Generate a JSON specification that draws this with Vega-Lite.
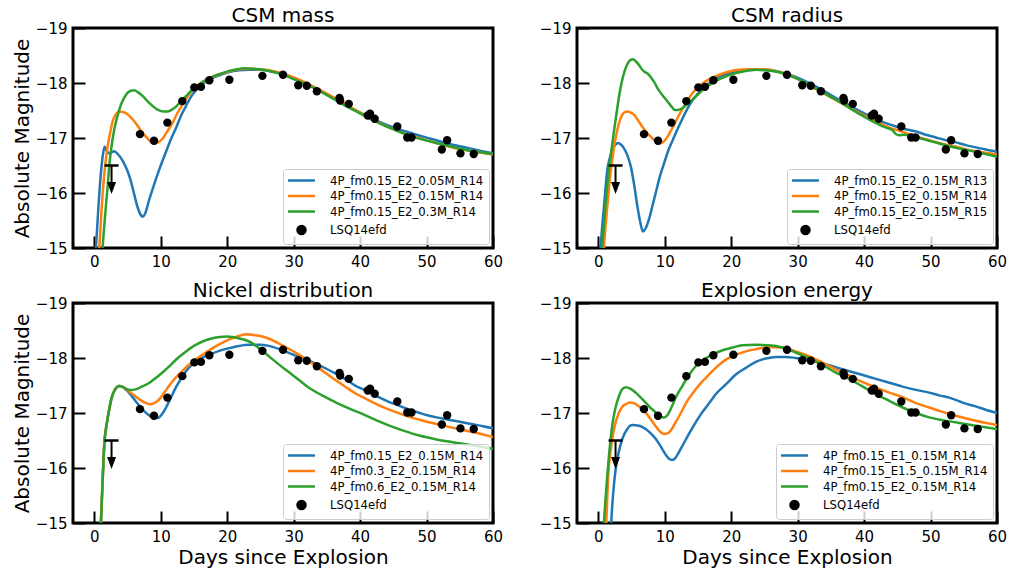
{
  "$schema": "https://vega.github.io/schema/vega-lite/v6.json",
  "background": "white",
  "padding": {"left": 10, "top": 4, "right": 5, "bottom": 5},
  "config": {
    "font": "DejaVu Sans",
    "view": {"stroke": "black", "strokeWidth": 3},
    "axis": {"domain": false, "grid": false, "ticks": true, "tickSize": -12, "tickWidth": 2, "tickColor": "black", "labelFont": "DejaVu Sans", "labelFontSize": 15, "labelColor": "black", "labelPadding": 18, "labelFlush": false, "labelOverlap": false, "titleFont": "DejaVu Sans", "titleFontSize": 20, "titleFontWeight": "normal", "titleColor": "black", "titlePadding": 3},
    "title": {"font": "DejaVu Sans", "fontSize": 20, "fontWeight": "normal", "color": "black", "anchor": "middle", "offset": -5},
    "legend": {"orient": "bottom-right", "offset": 4, "padding": 5, "fillColor": "rgba(255,255,255,0.8)", "strokeColor": "#cccccc", "strokeWidth": 1, "cornerRadius": 3, "labelFont": "DejaVu Sans", "labelFontSize": 11.7, "labelColor": "black", "labelLimit": 400, "rowPadding": 1.5, "symbolSize": 100, "symbolStrokeWidth": 2.5, "labelOffset": 22, "symbolOffset": 7}
  },
  "datasets": {
    "obs": [{"d":6.88,"M":-17.07},{"d":8.99,"M":-16.95},{"d":11.0,"M":-17.28},{"d":13.25,"M":-17.67},{"d":15.06,"M":-17.92},{"d":16.06,"M":-17.93},{"d":17.32,"M":-18.05},{"d":20.33,"M":-18.06},{"d":25.3,"M":-18.13},{"d":28.4,"M":-18.15},{"d":30.7,"M":-17.96},{"d":31.98,"M":-17.95},{"d":33.5,"M":-17.85},{"d":36.9,"M":-17.73},{"d":37.0,"M":-17.68},{"d":38.3,"M":-17.62},{"d":41.16,"M":-17.41},{"d":41.5,"M":-17.44},{"d":42.2,"M":-17.35},{"d":45.6,"M":-17.21},{"d":47.1,"M":-17.01},{"d":47.74,"M":-17.01},{"d":52.3,"M":-16.79},{"d":53.1,"M":-16.96},{"d":55.1,"M":-16.72},{"d":57.1,"M":-16.71}],
    "lim": [{"d": 2.6, "M": -16.5}],
    "A": [
      {"s":"4P_fm0.15_E2_0.05M_R14","d":0.0,"M":-14.6},{"s":"4P_fm0.15_E2_0.05M_R14","d":0.25,"M":-15.0},{"s":"4P_fm0.15_E2_0.05M_R14","d":0.6,"M":-15.7},{"s":"4P_fm0.15_E2_0.05M_R14","d":1.0,"M":-16.36},{"s":"4P_fm0.15_E2_0.05M_R14","d":1.3,"M":-16.7},{"s":"4P_fm0.15_E2_0.05M_R14","d":1.55,"M":-16.84},{"s":"4P_fm0.15_E2_0.05M_R14","d":1.9,"M":-16.76},{"s":"4P_fm0.15_E2_0.05M_R14","d":2.3,"M":-16.72},{"s":"4P_fm0.15_E2_0.05M_R14","d":3.0,"M":-16.76},{"s":"4P_fm0.15_E2_0.05M_R14","d":3.6,"M":-16.7},{"s":"4P_fm0.15_E2_0.05M_R14","d":4.3,"M":-16.58},{"s":"4P_fm0.15_E2_0.05M_R14","d":5.0,"M":-16.4},{"s":"4P_fm0.15_E2_0.05M_R14","d":5.5,"M":-16.22},{"s":"4P_fm0.15_E2_0.05M_R14","d":6.0,"M":-15.98},{"s":"4P_fm0.15_E2_0.05M_R14","d":6.5,"M":-15.75},{"s":"4P_fm0.15_E2_0.05M_R14","d":7.0,"M":-15.6},{"s":"4P_fm0.15_E2_0.05M_R14","d":7.3,"M":-15.57},{"s":"4P_fm0.15_E2_0.05M_R14","d":7.7,"M":-15.64},{"s":"4P_fm0.15_E2_0.05M_R14","d":8.2,"M":-15.85},{"s":"4P_fm0.15_E2_0.05M_R14","d":8.8,"M":-16.08},{"s":"4P_fm0.15_E2_0.05M_R14","d":9.3,"M":-16.26},{"s":"4P_fm0.15_E2_0.05M_R14","d":10.0,"M":-16.5},{"s":"4P_fm0.15_E2_0.05M_R14","d":10.8,"M":-16.75},{"s":"4P_fm0.15_E2_0.05M_R14","d":11.5,"M":-16.97},{"s":"4P_fm0.15_E2_0.05M_R14","d":12.3,"M":-17.18},{"s":"4P_fm0.15_E2_0.05M_R14","d":13.0,"M":-17.39},{"s":"4P_fm0.15_E2_0.05M_R14","d":13.8,"M":-17.58},{"s":"4P_fm0.15_E2_0.05M_R14","d":14.5,"M":-17.74},{"s":"4P_fm0.15_E2_0.05M_R14","d":15.3,"M":-17.87},{"s":"4P_fm0.15_E2_0.05M_R14","d":16.3,"M":-17.98},{"s":"4P_fm0.15_E2_0.05M_R14","d":17.3,"M":-18.06},{"s":"4P_fm0.15_E2_0.05M_R14","d":18.8,"M":-18.14},{"s":"4P_fm0.15_E2_0.05M_R14","d":20.3,"M":-18.2},{"s":"4P_fm0.15_E2_0.05M_R14","d":21.8,"M":-18.23},{"s":"4P_fm0.15_E2_0.05M_R14","d":23.3,"M":-18.24},{"s":"4P_fm0.15_E2_0.05M_R14","d":24.8,"M":-18.24},{"s":"4P_fm0.15_E2_0.05M_R14","d":26.3,"M":-18.22},{"s":"4P_fm0.15_E2_0.05M_R14","d":27.8,"M":-18.18},{"s":"4P_fm0.15_E2_0.05M_R14","d":29.4,"M":-18.12},{"s":"4P_fm0.15_E2_0.05M_R14","d":31,"M":-18.04},{"s":"4P_fm0.15_E2_0.05M_R14","d":32.4,"M":-17.96},{"s":"4P_fm0.15_E2_0.05M_R14","d":34,"M":-17.86},{"s":"4P_fm0.15_E2_0.05M_R14","d":35.4,"M":-17.77},{"s":"4P_fm0.15_E2_0.05M_R14","d":37,"M":-17.66},{"s":"4P_fm0.15_E2_0.05M_R14","d":38.4,"M":-17.56},{"s":"4P_fm0.15_E2_0.05M_R14","d":40,"M":-17.46},{"s":"4P_fm0.15_E2_0.05M_R14","d":41.4,"M":-17.38},{"s":"4P_fm0.15_E2_0.05M_R14","d":43,"M":-17.29},{"s":"4P_fm0.15_E2_0.05M_R14","d":44.4,"M":-17.22},{"s":"4P_fm0.15_E2_0.05M_R14","d":46,"M":-17.15},{"s":"4P_fm0.15_E2_0.05M_R14","d":47.4,"M":-17.1},{"s":"4P_fm0.15_E2_0.05M_R14","d":49,"M":-17.04},{"s":"4P_fm0.15_E2_0.05M_R14","d":50.5,"M":-16.99},{"s":"4P_fm0.15_E2_0.05M_R14","d":52,"M":-16.94},{"s":"4P_fm0.15_E2_0.05M_R14","d":53.5,"M":-16.89},{"s":"4P_fm0.15_E2_0.05M_R14","d":55,"M":-16.85},{"s":"4P_fm0.15_E2_0.05M_R14","d":56.5,"M":-16.81},{"s":"4P_fm0.15_E2_0.05M_R14","d":58,"M":-16.77},{"s":"4P_fm0.15_E2_0.05M_R14","d":60,"M":-16.72},
      {"s":"4P_fm0.15_E2_0.15M_R14","d":0.5,"M":-14.6},{"s":"4P_fm0.15_E2_0.15M_R14","d":0.75,"M":-15.0},{"s":"4P_fm0.15_E2_0.15M_R14","d":1.0,"M":-15.5},{"s":"4P_fm0.15_E2_0.15M_R14","d":1.25,"M":-15.97},{"s":"4P_fm0.15_E2_0.15M_R14","d":1.6,"M":-16.45},{"s":"4P_fm0.15_E2_0.15M_R14","d":2.0,"M":-16.84},{"s":"4P_fm0.15_E2_0.15M_R14","d":2.4,"M":-17.1},{"s":"4P_fm0.15_E2_0.15M_R14","d":2.76,"M":-17.3},{"s":"4P_fm0.15_E2_0.15M_R14","d":3.2,"M":-17.42},{"s":"4P_fm0.15_E2_0.15M_R14","d":3.77,"M":-17.48},{"s":"4P_fm0.15_E2_0.15M_R14","d":4.4,"M":-17.47},{"s":"4P_fm0.15_E2_0.15M_R14","d":5.0,"M":-17.43},{"s":"4P_fm0.15_E2_0.15M_R14","d":5.6,"M":-17.36},{"s":"4P_fm0.15_E2_0.15M_R14","d":6.3,"M":-17.26},{"s":"4P_fm0.15_E2_0.15M_R14","d":7.0,"M":-17.14},{"s":"4P_fm0.15_E2_0.15M_R14","d":7.8,"M":-17.02},{"s":"4P_fm0.15_E2_0.15M_R14","d":8.5,"M":-16.93},{"s":"4P_fm0.15_E2_0.15M_R14","d":9.0,"M":-16.9},{"s":"4P_fm0.15_E2_0.15M_R14","d":9.6,"M":-16.92},{"s":"4P_fm0.15_E2_0.15M_R14","d":10.3,"M":-16.99},{"s":"4P_fm0.15_E2_0.15M_R14","d":11.0,"M":-17.12},{"s":"4P_fm0.15_E2_0.15M_R14","d":11.8,"M":-17.28},{"s":"4P_fm0.15_E2_0.15M_R14","d":12.5,"M":-17.45},{"s":"4P_fm0.15_E2_0.15M_R14","d":13.3,"M":-17.61},{"s":"4P_fm0.15_E2_0.15M_R14","d":14.0,"M":-17.75},{"s":"4P_fm0.15_E2_0.15M_R14","d":14.8,"M":-17.87},{"s":"4P_fm0.15_E2_0.15M_R14","d":15.8,"M":-17.97},{"s":"4P_fm0.15_E2_0.15M_R14","d":17.3,"M":-18.08},{"s":"4P_fm0.15_E2_0.15M_R14","d":18.8,"M":-18.16},{"s":"4P_fm0.15_E2_0.15M_R14","d":20.3,"M":-18.21},{"s":"4P_fm0.15_E2_0.15M_R14","d":21.8,"M":-18.25},{"s":"4P_fm0.15_E2_0.15M_R14","d":23.3,"M":-18.26},{"s":"4P_fm0.15_E2_0.15M_R14","d":24.8,"M":-18.25},{"s":"4P_fm0.15_E2_0.15M_R14","d":26.3,"M":-18.23},{"s":"4P_fm0.15_E2_0.15M_R14","d":27.8,"M":-18.19},{"s":"4P_fm0.15_E2_0.15M_R14","d":29.4,"M":-18.13},{"s":"4P_fm0.15_E2_0.15M_R14","d":31,"M":-18.05},{"s":"4P_fm0.15_E2_0.15M_R14","d":32.4,"M":-17.97},{"s":"4P_fm0.15_E2_0.15M_R14","d":34,"M":-17.87},{"s":"4P_fm0.15_E2_0.15M_R14","d":35.4,"M":-17.78},{"s":"4P_fm0.15_E2_0.15M_R14","d":37,"M":-17.67},{"s":"4P_fm0.15_E2_0.15M_R14","d":38.4,"M":-17.57},{"s":"4P_fm0.15_E2_0.15M_R14","d":40,"M":-17.46},{"s":"4P_fm0.15_E2_0.15M_R14","d":41.4,"M":-17.37},{"s":"4P_fm0.15_E2_0.15M_R14","d":43,"M":-17.27},{"s":"4P_fm0.15_E2_0.15M_R14","d":44.4,"M":-17.19},{"s":"4P_fm0.15_E2_0.15M_R14","d":46,"M":-17.11},{"s":"4P_fm0.15_E2_0.15M_R14","d":47.4,"M":-17.05},{"s":"4P_fm0.15_E2_0.15M_R14","d":49,"M":-16.99},{"s":"4P_fm0.15_E2_0.15M_R14","d":50.5,"M":-16.94},{"s":"4P_fm0.15_E2_0.15M_R14","d":52,"M":-16.89},{"s":"4P_fm0.15_E2_0.15M_R14","d":53.5,"M":-16.84},{"s":"4P_fm0.15_E2_0.15M_R14","d":55,"M":-16.8},{"s":"4P_fm0.15_E2_0.15M_R14","d":56.5,"M":-16.77},{"s":"4P_fm0.15_E2_0.15M_R14","d":58,"M":-16.74},{"s":"4P_fm0.15_E2_0.15M_R14","d":60,"M":-16.7},
      {"s":"4P_fm0.15_E2_0.3M_R14","d":1.0,"M":-14.6},{"s":"4P_fm0.15_E2_0.3M_R14","d":1.25,"M":-15.0},{"s":"4P_fm0.15_E2_0.3M_R14","d":1.5,"M":-15.4},{"s":"4P_fm0.15_E2_0.3M_R14","d":1.77,"M":-15.79},{"s":"4P_fm0.15_E2_0.3M_R14","d":2.0,"M":-16.1},{"s":"4P_fm0.15_E2_0.3M_R14","d":2.26,"M":-16.5},{"s":"4P_fm0.15_E2_0.3M_R14","d":2.6,"M":-16.85},{"s":"4P_fm0.15_E2_0.3M_R14","d":3.0,"M":-17.15},{"s":"4P_fm0.15_E2_0.3M_R14","d":3.5,"M":-17.4},{"s":"4P_fm0.15_E2_0.3M_R14","d":4.0,"M":-17.6},{"s":"4P_fm0.15_E2_0.3M_R14","d":4.5,"M":-17.73},{"s":"4P_fm0.15_E2_0.3M_R14","d":5.0,"M":-17.82},{"s":"4P_fm0.15_E2_0.3M_R14","d":5.5,"M":-17.86},{"s":"4P_fm0.15_E2_0.3M_R14","d":6.0,"M":-17.87},{"s":"4P_fm0.15_E2_0.3M_R14","d":6.6,"M":-17.83},{"s":"4P_fm0.15_E2_0.3M_R14","d":7.3,"M":-17.76},{"s":"4P_fm0.15_E2_0.3M_R14","d":8.0,"M":-17.67},{"s":"4P_fm0.15_E2_0.3M_R14","d":8.8,"M":-17.58},{"s":"4P_fm0.15_E2_0.3M_R14","d":9.6,"M":-17.51},{"s":"4P_fm0.15_E2_0.3M_R14","d":10.4,"M":-17.48},{"s":"4P_fm0.15_E2_0.3M_R14","d":11.0,"M":-17.48},{"s":"4P_fm0.15_E2_0.3M_R14","d":11.6,"M":-17.51},{"s":"4P_fm0.15_E2_0.3M_R14","d":12.3,"M":-17.57},{"s":"4P_fm0.15_E2_0.3M_R14","d":13.0,"M":-17.66},{"s":"4P_fm0.15_E2_0.3M_R14","d":13.8,"M":-17.76},{"s":"4P_fm0.15_E2_0.3M_R14","d":14.5,"M":-17.85},{"s":"4P_fm0.15_E2_0.3M_R14","d":15.3,"M":-17.94},{"s":"4P_fm0.15_E2_0.3M_R14","d":16.3,"M":-18.02},{"s":"4P_fm0.15_E2_0.3M_R14","d":17.3,"M":-18.09},{"s":"4P_fm0.15_E2_0.3M_R14","d":18.8,"M":-18.16},{"s":"4P_fm0.15_E2_0.3M_R14","d":20.3,"M":-18.22},{"s":"4P_fm0.15_E2_0.3M_R14","d":21.5,"M":-18.25},{"s":"4P_fm0.15_E2_0.3M_R14","d":22.5,"M":-18.27},{"s":"4P_fm0.15_E2_0.3M_R14","d":24,"M":-18.26},{"s":"4P_fm0.15_E2_0.3M_R14","d":25.4,"M":-18.24},{"s":"4P_fm0.15_E2_0.3M_R14","d":27,"M":-18.2},{"s":"4P_fm0.15_E2_0.3M_R14","d":28.4,"M":-18.15},{"s":"4P_fm0.15_E2_0.3M_R14","d":30,"M":-18.07},{"s":"4P_fm0.15_E2_0.3M_R14","d":31.4,"M":-18.0},{"s":"4P_fm0.15_E2_0.3M_R14","d":33,"M":-17.91},{"s":"4P_fm0.15_E2_0.3M_R14","d":34.4,"M":-17.82},{"s":"4P_fm0.15_E2_0.3M_R14","d":36,"M":-17.71},{"s":"4P_fm0.15_E2_0.3M_R14","d":37.4,"M":-17.61},{"s":"4P_fm0.15_E2_0.3M_R14","d":39,"M":-17.51},{"s":"4P_fm0.15_E2_0.3M_R14","d":40.4,"M":-17.42},{"s":"4P_fm0.15_E2_0.3M_R14","d":42,"M":-17.32},{"s":"4P_fm0.15_E2_0.3M_R14","d":43.4,"M":-17.24},{"s":"4P_fm0.15_E2_0.3M_R14","d":45,"M":-17.16},{"s":"4P_fm0.15_E2_0.3M_R14","d":46.4,"M":-17.09},{"s":"4P_fm0.15_E2_0.3M_R14","d":48,"M":-17.02},{"s":"4P_fm0.15_E2_0.3M_R14","d":49.5,"M":-16.97},{"s":"4P_fm0.15_E2_0.3M_R14","d":51.5,"M":-16.91},{"s":"4P_fm0.15_E2_0.3M_R14","d":53.5,"M":-16.85},{"s":"4P_fm0.15_E2_0.3M_R14","d":55,"M":-16.81},{"s":"4P_fm0.15_E2_0.3M_R14","d":56.5,"M":-16.77},{"s":"4P_fm0.15_E2_0.3M_R14","d":58,"M":-16.74},{"s":"4P_fm0.15_E2_0.3M_R14","d":60,"M":-16.71}
    ],
    "B": [
      {"s":"4P_fm0.15_E2_0.15M_R13","d":0.2,"M":-14.6},{"s":"4P_fm0.15_E2_0.15M_R13","d":0.36,"M":-15.0},{"s":"4P_fm0.15_E2_0.15M_R13","d":0.6,"M":-15.4},{"s":"4P_fm0.15_E2_0.15M_R13","d":0.86,"M":-15.75},{"s":"4P_fm0.15_E2_0.15M_R13","d":1.1,"M":-16.1},{"s":"4P_fm0.15_E2_0.15M_R13","d":1.36,"M":-16.42},{"s":"4P_fm0.15_E2_0.15M_R13","d":1.7,"M":-16.62},{"s":"4P_fm0.15_E2_0.15M_R13","d":2.1,"M":-16.78},{"s":"4P_fm0.15_E2_0.15M_R13","d":2.5,"M":-16.87},{"s":"4P_fm0.15_E2_0.15M_R13","d":3.0,"M":-16.91},{"s":"4P_fm0.15_E2_0.15M_R13","d":3.5,"M":-16.87},{"s":"4P_fm0.15_E2_0.15M_R13","d":3.87,"M":-16.81},{"s":"4P_fm0.15_E2_0.15M_R13","d":4.4,"M":-16.68},{"s":"4P_fm0.15_E2_0.15M_R13","d":4.9,"M":-16.48},{"s":"4P_fm0.15_E2_0.15M_R13","d":5.4,"M":-16.15},{"s":"4P_fm0.15_E2_0.15M_R13","d":5.9,"M":-15.75},{"s":"4P_fm0.15_E2_0.15M_R13","d":6.3,"M":-15.48},{"s":"4P_fm0.15_E2_0.15M_R13","d":6.73,"M":-15.3},{"s":"4P_fm0.15_E2_0.15M_R13","d":7.1,"M":-15.35},{"s":"4P_fm0.15_E2_0.15M_R13","d":7.6,"M":-15.51},{"s":"4P_fm0.15_E2_0.15M_R13","d":8.1,"M":-15.74},{"s":"4P_fm0.15_E2_0.15M_R13","d":8.64,"M":-16.0},{"s":"4P_fm0.15_E2_0.15M_R13","d":9.2,"M":-16.27},{"s":"4P_fm0.15_E2_0.15M_R13","d":9.9,"M":-16.54},{"s":"4P_fm0.15_E2_0.15M_R13","d":10.5,"M":-16.76},{"s":"4P_fm0.15_E2_0.15M_R13","d":11.2,"M":-16.96},{"s":"4P_fm0.15_E2_0.15M_R13","d":12.0,"M":-17.18},{"s":"4P_fm0.15_E2_0.15M_R13","d":12.7,"M":-17.36},{"s":"4P_fm0.15_E2_0.15M_R13","d":13.4,"M":-17.53},{"s":"4P_fm0.15_E2_0.15M_R13","d":14.2,"M":-17.69},{"s":"4P_fm0.15_E2_0.15M_R13","d":15.0,"M":-17.81},{"s":"4P_fm0.15_E2_0.15M_R13","d":15.7,"M":-17.9},{"s":"4P_fm0.15_E2_0.15M_R13","d":16.7,"M":-18.0},{"s":"4P_fm0.15_E2_0.15M_R13","d":17.7,"M":-18.09},{"s":"4P_fm0.15_E2_0.15M_R13","d":19.2,"M":-18.16},{"s":"4P_fm0.15_E2_0.15M_R13","d":20.7,"M":-18.21},{"s":"4P_fm0.15_E2_0.15M_R13","d":22.2,"M":-18.23},{"s":"4P_fm0.15_E2_0.15M_R13","d":23.7,"M":-18.24},{"s":"4P_fm0.15_E2_0.15M_R13","d":25.2,"M":-18.24},{"s":"4P_fm0.15_E2_0.15M_R13","d":26.7,"M":-18.22},{"s":"4P_fm0.15_E2_0.15M_R13","d":28.2,"M":-18.17},{"s":"4P_fm0.15_E2_0.15M_R13","d":29.7,"M":-18.11},{"s":"4P_fm0.15_E2_0.15M_R13","d":31.2,"M":-18.03},{"s":"4P_fm0.15_E2_0.15M_R13","d":32.7,"M":-17.94},{"s":"4P_fm0.15_E2_0.15M_R13","d":34.2,"M":-17.84},{"s":"4P_fm0.15_E2_0.15M_R13","d":35.7,"M":-17.73},{"s":"4P_fm0.15_E2_0.15M_R13","d":37.2,"M":-17.63},{"s":"4P_fm0.15_E2_0.15M_R13","d":38.7,"M":-17.53},{"s":"4P_fm0.15_E2_0.15M_R13","d":40.3,"M":-17.43},{"s":"4P_fm0.15_E2_0.15M_R13","d":41.8,"M":-17.34},{"s":"4P_fm0.15_E2_0.15M_R13","d":43.3,"M":-17.27},{"s":"4P_fm0.15_E2_0.15M_R13","d":44.8,"M":-17.21},{"s":"4P_fm0.15_E2_0.15M_R13","d":46.3,"M":-17.16},{"s":"4P_fm0.15_E2_0.15M_R13","d":47.8,"M":-17.12},{"s":"4P_fm0.15_E2_0.15M_R13","d":49.3,"M":-17.06},{"s":"4P_fm0.15_E2_0.15M_R13","d":50.8,"M":-17.01},{"s":"4P_fm0.15_E2_0.15M_R13","d":52.3,"M":-16.96},{"s":"4P_fm0.15_E2_0.15M_R13","d":53.8,"M":-16.92},{"s":"4P_fm0.15_E2_0.15M_R13","d":55.3,"M":-16.87},{"s":"4P_fm0.15_E2_0.15M_R13","d":56.8,"M":-16.83},{"s":"4P_fm0.15_E2_0.15M_R13","d":58.3,"M":-16.79},{"s":"4P_fm0.15_E2_0.15M_R13","d":60,"M":-16.75},
      {"s":"4P_fm0.15_E2_0.15M_R14","d":0.7,"M":-14.6},{"s":"4P_fm0.15_E2_0.15M_R14","d":0.86,"M":-15.02},{"s":"4P_fm0.15_E2_0.15M_R14","d":1.1,"M":-15.4},{"s":"4P_fm0.15_E2_0.15M_R14","d":1.36,"M":-15.75},{"s":"4P_fm0.15_E2_0.15M_R14","d":1.7,"M":-16.2},{"s":"4P_fm0.15_E2_0.15M_R14","d":2.1,"M":-16.6},{"s":"4P_fm0.15_E2_0.15M_R14","d":2.5,"M":-16.92},{"s":"4P_fm0.15_E2_0.15M_R14","d":2.87,"M":-17.15},{"s":"4P_fm0.15_E2_0.15M_R14","d":3.2,"M":-17.3},{"s":"4P_fm0.15_E2_0.15M_R14","d":3.6,"M":-17.42},{"s":"4P_fm0.15_E2_0.15M_R14","d":4.0,"M":-17.47},{"s":"4P_fm0.15_E2_0.15M_R14","d":4.4,"M":-17.48},{"s":"4P_fm0.15_E2_0.15M_R14","d":4.9,"M":-17.46},{"s":"4P_fm0.15_E2_0.15M_R14","d":5.4,"M":-17.42},{"s":"4P_fm0.15_E2_0.15M_R14","d":6.0,"M":-17.32},{"s":"4P_fm0.15_E2_0.15M_R14","d":6.6,"M":-17.21},{"s":"4P_fm0.15_E2_0.15M_R14","d":7.3,"M":-17.1},{"s":"4P_fm0.15_E2_0.15M_R14","d":8.1,"M":-17.0},{"s":"4P_fm0.15_E2_0.15M_R14","d":8.7,"M":-16.93},{"s":"4P_fm0.15_E2_0.15M_R14","d":9.2,"M":-16.9},{"s":"4P_fm0.15_E2_0.15M_R14","d":9.8,"M":-16.93},{"s":"4P_fm0.15_E2_0.15M_R14","d":10.4,"M":-17.02},{"s":"4P_fm0.15_E2_0.15M_R14","d":11.0,"M":-17.15},{"s":"4P_fm0.15_E2_0.15M_R14","d":11.65,"M":-17.3},{"s":"4P_fm0.15_E2_0.15M_R14","d":12.4,"M":-17.47},{"s":"4P_fm0.15_E2_0.15M_R14","d":13.2,"M":-17.63},{"s":"4P_fm0.15_E2_0.15M_R14","d":13.9,"M":-17.77},{"s":"4P_fm0.15_E2_0.15M_R14","d":14.7,"M":-17.89},{"s":"4P_fm0.15_E2_0.15M_R14","d":15.7,"M":-17.99},{"s":"4P_fm0.15_E2_0.15M_R14","d":16.7,"M":-18.07},{"s":"4P_fm0.15_E2_0.15M_R14","d":18.2,"M":-18.15},{"s":"4P_fm0.15_E2_0.15M_R14","d":19.7,"M":-18.21},{"s":"4P_fm0.15_E2_0.15M_R14","d":21.2,"M":-18.24},{"s":"4P_fm0.15_E2_0.15M_R14","d":22.7,"M":-18.25},{"s":"4P_fm0.15_E2_0.15M_R14","d":24.2,"M":-18.25},{"s":"4P_fm0.15_E2_0.15M_R14","d":25.7,"M":-18.24},{"s":"4P_fm0.15_E2_0.15M_R14","d":27.2,"M":-18.2},{"s":"4P_fm0.15_E2_0.15M_R14","d":28.7,"M":-18.15},{"s":"4P_fm0.15_E2_0.15M_R14","d":30.2,"M":-18.06},{"s":"4P_fm0.15_E2_0.15M_R14","d":31.7,"M":-17.96},{"s":"4P_fm0.15_E2_0.15M_R14","d":33.2,"M":-17.86},{"s":"4P_fm0.15_E2_0.15M_R14","d":34.7,"M":-17.76},{"s":"4P_fm0.15_E2_0.15M_R14","d":36.2,"M":-17.66},{"s":"4P_fm0.15_E2_0.15M_R14","d":37.7,"M":-17.56},{"s":"4P_fm0.15_E2_0.15M_R14","d":39.2,"M":-17.46},{"s":"4P_fm0.15_E2_0.15M_R14","d":40.8,"M":-17.36},{"s":"4P_fm0.15_E2_0.15M_R14","d":42.3,"M":-17.27},{"s":"4P_fm0.15_E2_0.15M_R14","d":43.8,"M":-17.19},{"s":"4P_fm0.15_E2_0.15M_R14","d":45.3,"M":-17.13},{"s":"4P_fm0.15_E2_0.15M_R14","d":46.8,"M":-17.07},{"s":"4P_fm0.15_E2_0.15M_R14","d":48.3,"M":-17.01},{"s":"4P_fm0.15_E2_0.15M_R14","d":49.8,"M":-16.96},{"s":"4P_fm0.15_E2_0.15M_R14","d":51.3,"M":-16.91},{"s":"4P_fm0.15_E2_0.15M_R14","d":52.8,"M":-16.87},{"s":"4P_fm0.15_E2_0.15M_R14","d":54.3,"M":-16.83},{"s":"4P_fm0.15_E2_0.15M_R14","d":55.9,"M":-16.78},{"s":"4P_fm0.15_E2_0.15M_R14","d":57.8,"M":-16.74},{"s":"4P_fm0.15_E2_0.15M_R14","d":60,"M":-16.7},
      {"s":"4P_fm0.15_E2_0.15M_R15","d":0.45,"M":-14.6},{"s":"4P_fm0.15_E2_0.15M_R15","d":0.6,"M":-15.02},{"s":"4P_fm0.15_E2_0.15M_R15","d":0.85,"M":-15.42},{"s":"4P_fm0.15_E2_0.15M_R15","d":1.1,"M":-15.81},{"s":"4P_fm0.15_E2_0.15M_R15","d":1.35,"M":-16.13},{"s":"4P_fm0.15_E2_0.15M_R15","d":1.6,"M":-16.42},{"s":"4P_fm0.15_E2_0.15M_R15","d":2.0,"M":-16.8},{"s":"4P_fm0.15_E2_0.15M_R15","d":2.36,"M":-17.12},{"s":"4P_fm0.15_E2_0.15M_R15","d":2.75,"M":-17.45},{"s":"4P_fm0.15_E2_0.15M_R15","d":3.12,"M":-17.75},{"s":"4P_fm0.15_E2_0.15M_R15","d":3.5,"M":-18.0},{"s":"4P_fm0.15_E2_0.15M_R15","d":3.87,"M":-18.18},{"s":"4P_fm0.15_E2_0.15M_R15","d":4.25,"M":-18.31},{"s":"4P_fm0.15_E2_0.15M_R15","d":4.62,"M":-18.39},{"s":"4P_fm0.15_E2_0.15M_R15","d":4.9,"M":-18.42},{"s":"4P_fm0.15_E2_0.15M_R15","d":5.22,"M":-18.43},{"s":"4P_fm0.15_E2_0.15M_R15","d":5.6,"M":-18.4},{"s":"4P_fm0.15_E2_0.15M_R15","d":6.1,"M":-18.33},{"s":"4P_fm0.15_E2_0.15M_R15","d":6.5,"M":-18.26},{"s":"4P_fm0.15_E2_0.15M_R15","d":6.9,"M":-18.21},{"s":"4P_fm0.15_E2_0.15M_R15","d":7.3,"M":-18.18},{"s":"4P_fm0.15_E2_0.15M_R15","d":7.6,"M":-18.15},{"s":"4P_fm0.15_E2_0.15M_R15","d":8.0,"M":-18.09},{"s":"4P_fm0.15_E2_0.15M_R15","d":8.4,"M":-18.02},{"s":"4P_fm0.15_E2_0.15M_R15","d":9.1,"M":-17.87},{"s":"4P_fm0.15_E2_0.15M_R15","d":9.9,"M":-17.74},{"s":"4P_fm0.15_E2_0.15M_R15","d":10.65,"M":-17.63},{"s":"4P_fm0.15_E2_0.15M_R15","d":11.1,"M":-17.56},{"s":"4P_fm0.15_E2_0.15M_R15","d":11.5,"M":-17.51},{"s":"4P_fm0.15_E2_0.15M_R15","d":12.0,"M":-17.51},{"s":"4P_fm0.15_E2_0.15M_R15","d":12.6,"M":-17.54},{"s":"4P_fm0.15_E2_0.15M_R15","d":13.4,"M":-17.62},{"s":"4P_fm0.15_E2_0.15M_R15","d":14.2,"M":-17.7},{"s":"4P_fm0.15_E2_0.15M_R15","d":15.0,"M":-17.79},{"s":"4P_fm0.15_E2_0.15M_R15","d":15.7,"M":-17.87},{"s":"4P_fm0.15_E2_0.15M_R15","d":16.7,"M":-17.96},{"s":"4P_fm0.15_E2_0.15M_R15","d":17.7,"M":-18.04},{"s":"4P_fm0.15_E2_0.15M_R15","d":19.2,"M":-18.12},{"s":"4P_fm0.15_E2_0.15M_R15","d":20.7,"M":-18.18},{"s":"4P_fm0.15_E2_0.15M_R15","d":22.2,"M":-18.22},{"s":"4P_fm0.15_E2_0.15M_R15","d":23.7,"M":-18.24},{"s":"4P_fm0.15_E2_0.15M_R15","d":25.2,"M":-18.23},{"s":"4P_fm0.15_E2_0.15M_R15","d":26.7,"M":-18.21},{"s":"4P_fm0.15_E2_0.15M_R15","d":28.2,"M":-18.16},{"s":"4P_fm0.15_E2_0.15M_R15","d":29.7,"M":-18.09},{"s":"4P_fm0.15_E2_0.15M_R15","d":31.2,"M":-18.0},{"s":"4P_fm0.15_E2_0.15M_R15","d":32.7,"M":-17.9},{"s":"4P_fm0.15_E2_0.15M_R15","d":34.2,"M":-17.8},{"s":"4P_fm0.15_E2_0.15M_R15","d":35.7,"M":-17.7},{"s":"4P_fm0.15_E2_0.15M_R15","d":37.2,"M":-17.59},{"s":"4P_fm0.15_E2_0.15M_R15","d":38.7,"M":-17.48},{"s":"4P_fm0.15_E2_0.15M_R15","d":40.0,"M":-17.39},{"s":"4P_fm0.15_E2_0.15M_R15","d":41.3,"M":-17.3},{"s":"4P_fm0.15_E2_0.15M_R15","d":42.3,"M":-17.24},{"s":"4P_fm0.15_E2_0.15M_R15","d":43.3,"M":-17.19},{"s":"4P_fm0.15_E2_0.15M_R15","d":44.2,"M":-17.15},{"s":"4P_fm0.15_E2_0.15M_R15","d":44.7,"M":-17.08},{"s":"4P_fm0.15_E2_0.15M_R15","d":45.3,"M":-17.05},{"s":"4P_fm0.15_E2_0.15M_R15","d":46.0,"M":-17.06},{"s":"4P_fm0.15_E2_0.15M_R15","d":46.8,"M":-17.05},{"s":"4P_fm0.15_E2_0.15M_R15","d":48.3,"M":-17.0},{"s":"4P_fm0.15_E2_0.15M_R15","d":49.8,"M":-16.95},{"s":"4P_fm0.15_E2_0.15M_R15","d":51.3,"M":-16.9},{"s":"4P_fm0.15_E2_0.15M_R15","d":52.8,"M":-16.85},{"s":"4P_fm0.15_E2_0.15M_R15","d":54.3,"M":-16.81},{"s":"4P_fm0.15_E2_0.15M_R15","d":55.9,"M":-16.77},{"s":"4P_fm0.15_E2_0.15M_R15","d":57.8,"M":-16.72},{"s":"4P_fm0.15_E2_0.15M_R15","d":60,"M":-16.66}
    ],
    "C": [
      {"s":"4P_fm0.15_E2_0.15M_R14","d":0.85,"M":-14.6},{"s":"4P_fm0.15_E2_0.15M_R14","d":1.0,"M":-15.0},{"s":"4P_fm0.15_E2_0.15M_R14","d":1.25,"M":-15.75},{"s":"4P_fm0.15_E2_0.15M_R14","d":1.5,"M":-16.41},{"s":"4P_fm0.15_E2_0.15M_R14","d":1.9,"M":-16.82},{"s":"4P_fm0.15_E2_0.15M_R14","d":2.26,"M":-17.07},{"s":"4P_fm0.15_E2_0.15M_R14","d":2.6,"M":-17.27},{"s":"4P_fm0.15_E2_0.15M_R14","d":3.0,"M":-17.4},{"s":"4P_fm0.15_E2_0.15M_R14","d":3.4,"M":-17.47},{"s":"4P_fm0.15_E2_0.15M_R14","d":3.77,"M":-17.49},{"s":"4P_fm0.15_E2_0.15M_R14","d":4.2,"M":-17.48},{"s":"4P_fm0.15_E2_0.15M_R14","d":4.8,"M":-17.42},{"s":"4P_fm0.15_E2_0.15M_R14","d":5.5,"M":-17.33},{"s":"4P_fm0.15_E2_0.15M_R14","d":6.2,"M":-17.22},{"s":"4P_fm0.15_E2_0.15M_R14","d":7.0,"M":-17.1},{"s":"4P_fm0.15_E2_0.15M_R14","d":8.0,"M":-16.98},{"s":"4P_fm0.15_E2_0.15M_R14","d":8.8,"M":-16.92},{"s":"4P_fm0.15_E2_0.15M_R14","d":9.55,"M":-16.91},{"s":"4P_fm0.15_E2_0.15M_R14","d":10.2,"M":-16.98},{"s":"4P_fm0.15_E2_0.15M_R14","d":10.8,"M":-17.1},{"s":"4P_fm0.15_E2_0.15M_R14","d":11.3,"M":-17.22},{"s":"4P_fm0.15_E2_0.15M_R14","d":12.3,"M":-17.47},{"s":"4P_fm0.15_E2_0.15M_R14","d":13.3,"M":-17.67},{"s":"4P_fm0.15_E2_0.15M_R14","d":14.2,"M":-17.82},{"s":"4P_fm0.15_E2_0.15M_R14","d":15.1,"M":-17.92},{"s":"4P_fm0.15_E2_0.15M_R14","d":16.2,"M":-18.0},{"s":"4P_fm0.15_E2_0.15M_R14","d":17.3,"M":-18.06},{"s":"4P_fm0.15_E2_0.15M_R14","d":18.8,"M":-18.13},{"s":"4P_fm0.15_E2_0.15M_R14","d":20.3,"M":-18.18},{"s":"4P_fm0.15_E2_0.15M_R14","d":21.8,"M":-18.22},{"s":"4P_fm0.15_E2_0.15M_R14","d":23.3,"M":-18.24},{"s":"4P_fm0.15_E2_0.15M_R14","d":24.8,"M":-18.24},{"s":"4P_fm0.15_E2_0.15M_R14","d":26.3,"M":-18.22},{"s":"4P_fm0.15_E2_0.15M_R14","d":28.3,"M":-18.14},{"s":"4P_fm0.15_E2_0.15M_R14","d":30.4,"M":-18.04},{"s":"4P_fm0.15_E2_0.15M_R14","d":32,"M":-17.97},{"s":"4P_fm0.15_E2_0.15M_R14","d":33.4,"M":-17.89},{"s":"4P_fm0.15_E2_0.15M_R14","d":35,"M":-17.8},{"s":"4P_fm0.15_E2_0.15M_R14","d":36.4,"M":-17.71},{"s":"4P_fm0.15_E2_0.15M_R14","d":38,"M":-17.6},{"s":"4P_fm0.15_E2_0.15M_R14","d":39.4,"M":-17.49},{"s":"4P_fm0.15_E2_0.15M_R14","d":41,"M":-17.4},{"s":"4P_fm0.15_E2_0.15M_R14","d":42.4,"M":-17.31},{"s":"4P_fm0.15_E2_0.15M_R14","d":44,"M":-17.22},{"s":"4P_fm0.15_E2_0.15M_R14","d":45.9,"M":-17.13},{"s":"4P_fm0.15_E2_0.15M_R14","d":47.5,"M":-17.06},{"s":"4P_fm0.15_E2_0.15M_R14","d":49.5,"M":-16.98},{"s":"4P_fm0.15_E2_0.15M_R14","d":51.5,"M":-16.92},{"s":"4P_fm0.15_E2_0.15M_R14","d":53.7,"M":-16.87},{"s":"4P_fm0.15_E2_0.15M_R14","d":55,"M":-16.84},{"s":"4P_fm0.15_E2_0.15M_R14","d":56.7,"M":-16.8},{"s":"4P_fm0.15_E2_0.15M_R14","d":58.5,"M":-16.76},{"s":"4P_fm0.15_E2_0.15M_R14","d":60,"M":-16.72},
      {"s":"4P_fm0.3_E2_0.15M_R14","d":0.85,"M":-14.6},{"s":"4P_fm0.3_E2_0.15M_R14","d":1.0,"M":-15.0},{"s":"4P_fm0.3_E2_0.15M_R14","d":1.25,"M":-15.75},{"s":"4P_fm0.3_E2_0.15M_R14","d":1.5,"M":-16.41},{"s":"4P_fm0.3_E2_0.15M_R14","d":1.9,"M":-16.82},{"s":"4P_fm0.3_E2_0.15M_R14","d":2.26,"M":-17.07},{"s":"4P_fm0.3_E2_0.15M_R14","d":2.6,"M":-17.27},{"s":"4P_fm0.3_E2_0.15M_R14","d":3.0,"M":-17.4},{"s":"4P_fm0.3_E2_0.15M_R14","d":3.4,"M":-17.47},{"s":"4P_fm0.3_E2_0.15M_R14","d":3.77,"M":-17.49},{"s":"4P_fm0.3_E2_0.15M_R14","d":4.2,"M":-17.48},{"s":"4P_fm0.3_E2_0.15M_R14","d":4.8,"M":-17.43},{"s":"4P_fm0.3_E2_0.15M_R14","d":5.5,"M":-17.37},{"s":"4P_fm0.3_E2_0.15M_R14","d":6.2,"M":-17.3},{"s":"4P_fm0.3_E2_0.15M_R14","d":7.0,"M":-17.23},{"s":"4P_fm0.3_E2_0.15M_R14","d":7.8,"M":-17.18},{"s":"4P_fm0.3_E2_0.15M_R14","d":8.5,"M":-17.16},{"s":"4P_fm0.3_E2_0.15M_R14","d":9.2,"M":-17.19},{"s":"4P_fm0.3_E2_0.15M_R14","d":10.0,"M":-17.28},{"s":"4P_fm0.3_E2_0.15M_R14","d":10.6,"M":-17.38},{"s":"4P_fm0.3_E2_0.15M_R14","d":11.3,"M":-17.5},{"s":"4P_fm0.3_E2_0.15M_R14","d":12.3,"M":-17.65},{"s":"4P_fm0.3_E2_0.15M_R14","d":13.3,"M":-17.77},{"s":"4P_fm0.3_E2_0.15M_R14","d":14.8,"M":-17.93},{"s":"4P_fm0.3_E2_0.15M_R14","d":16.3,"M":-18.06},{"s":"4P_fm0.3_E2_0.15M_R14","d":17.8,"M":-18.18},{"s":"4P_fm0.3_E2_0.15M_R14","d":19.3,"M":-18.28},{"s":"4P_fm0.3_E2_0.15M_R14","d":20.8,"M":-18.36},{"s":"4P_fm0.3_E2_0.15M_R14","d":22.0,"M":-18.41},{"s":"4P_fm0.3_E2_0.15M_R14","d":22.8,"M":-18.43},{"s":"4P_fm0.3_E2_0.15M_R14","d":24.0,"M":-18.42},{"s":"4P_fm0.3_E2_0.15M_R14","d":25.3,"M":-18.39},{"s":"4P_fm0.3_E2_0.15M_R14","d":26.3,"M":-18.35},{"s":"4P_fm0.3_E2_0.15M_R14","d":28.3,"M":-18.23},{"s":"4P_fm0.3_E2_0.15M_R14","d":30.4,"M":-18.09},{"s":"4P_fm0.3_E2_0.15M_R14","d":32,"M":-17.97},{"s":"4P_fm0.3_E2_0.15M_R14","d":33.4,"M":-17.85},{"s":"4P_fm0.3_E2_0.15M_R14","d":35,"M":-17.71},{"s":"4P_fm0.3_E2_0.15M_R14","d":36.4,"M":-17.59},{"s":"4P_fm0.3_E2_0.15M_R14","d":38,"M":-17.46},{"s":"4P_fm0.3_E2_0.15M_R14","d":39.4,"M":-17.35},{"s":"4P_fm0.3_E2_0.15M_R14","d":41,"M":-17.25},{"s":"4P_fm0.3_E2_0.15M_R14","d":43.4,"M":-17.11},{"s":"4P_fm0.3_E2_0.15M_R14","d":45.5,"M":-17.01},{"s":"4P_fm0.3_E2_0.15M_R14","d":47.4,"M":-16.93},{"s":"4P_fm0.3_E2_0.15M_R14","d":49.5,"M":-16.86},{"s":"4P_fm0.3_E2_0.15M_R14","d":51.5,"M":-16.8},{"s":"4P_fm0.3_E2_0.15M_R14","d":54,"M":-16.73},{"s":"4P_fm0.3_E2_0.15M_R14","d":56.7,"M":-16.66},{"s":"4P_fm0.3_E2_0.15M_R14","d":58.5,"M":-16.61},{"s":"4P_fm0.3_E2_0.15M_R14","d":60,"M":-16.56},
      {"s":"4P_fm0.6_E2_0.15M_R14","d":0.85,"M":-14.6},{"s":"4P_fm0.6_E2_0.15M_R14","d":1.0,"M":-15.0},{"s":"4P_fm0.6_E2_0.15M_R14","d":1.25,"M":-15.75},{"s":"4P_fm0.6_E2_0.15M_R14","d":1.5,"M":-16.41},{"s":"4P_fm0.6_E2_0.15M_R14","d":1.9,"M":-16.82},{"s":"4P_fm0.6_E2_0.15M_R14","d":2.26,"M":-17.07},{"s":"4P_fm0.6_E2_0.15M_R14","d":2.6,"M":-17.27},{"s":"4P_fm0.6_E2_0.15M_R14","d":3.0,"M":-17.4},{"s":"4P_fm0.6_E2_0.15M_R14","d":3.4,"M":-17.47},{"s":"4P_fm0.6_E2_0.15M_R14","d":3.77,"M":-17.49},{"s":"4P_fm0.6_E2_0.15M_R14","d":4.2,"M":-17.48},{"s":"4P_fm0.6_E2_0.15M_R14","d":4.8,"M":-17.44},{"s":"4P_fm0.6_E2_0.15M_R14","d":5.5,"M":-17.42},{"s":"4P_fm0.6_E2_0.15M_R14","d":6.2,"M":-17.43},{"s":"4P_fm0.6_E2_0.15M_R14","d":7.0,"M":-17.47},{"s":"4P_fm0.6_E2_0.15M_R14","d":8.3,"M":-17.55},{"s":"4P_fm0.6_E2_0.15M_R14","d":9.5,"M":-17.66},{"s":"4P_fm0.6_E2_0.15M_R14","d":10.4,"M":-17.75},{"s":"4P_fm0.6_E2_0.15M_R14","d":11.3,"M":-17.85},{"s":"4P_fm0.6_E2_0.15M_R14","d":12.5,"M":-17.99},{"s":"4P_fm0.6_E2_0.15M_R14","d":13.8,"M":-18.12},{"s":"4P_fm0.6_E2_0.15M_R14","d":15,"M":-18.22},{"s":"4P_fm0.6_E2_0.15M_R14","d":16.3,"M":-18.3},{"s":"4P_fm0.6_E2_0.15M_R14","d":17.5,"M":-18.35},{"s":"4P_fm0.6_E2_0.15M_R14","d":18.8,"M":-18.38},{"s":"4P_fm0.6_E2_0.15M_R14","d":20.0,"M":-18.39},{"s":"4P_fm0.6_E2_0.15M_R14","d":20.8,"M":-18.38},{"s":"4P_fm0.6_E2_0.15M_R14","d":22,"M":-18.35},{"s":"4P_fm0.6_E2_0.15M_R14","d":23.3,"M":-18.3},{"s":"4P_fm0.6_E2_0.15M_R14","d":24.8,"M":-18.18},{"s":"4P_fm0.6_E2_0.15M_R14","d":26.3,"M":-18.03},{"s":"4P_fm0.6_E2_0.15M_R14","d":27.8,"M":-17.88},{"s":"4P_fm0.6_E2_0.15M_R14","d":29.4,"M":-17.73},{"s":"4P_fm0.6_E2_0.15M_R14","d":30.8,"M":-17.6},{"s":"4P_fm0.6_E2_0.15M_R14","d":32.3,"M":-17.46},{"s":"4P_fm0.6_E2_0.15M_R14","d":34.3,"M":-17.32},{"s":"4P_fm0.6_E2_0.15M_R14","d":36.4,"M":-17.19},{"s":"4P_fm0.6_E2_0.15M_R14","d":38.4,"M":-17.08},{"s":"4P_fm0.6_E2_0.15M_R14","d":40.4,"M":-16.98},{"s":"4P_fm0.6_E2_0.15M_R14","d":42.4,"M":-16.87},{"s":"4P_fm0.6_E2_0.15M_R14","d":44.4,"M":-16.77},{"s":"4P_fm0.6_E2_0.15M_R14","d":46.5,"M":-16.68},{"s":"4P_fm0.6_E2_0.15M_R14","d":48.9,"M":-16.59},{"s":"4P_fm0.6_E2_0.15M_R14","d":51.5,"M":-16.52},{"s":"4P_fm0.6_E2_0.15M_R14","d":53.9,"M":-16.47},{"s":"4P_fm0.6_E2_0.15M_R14","d":57,"M":-16.41},{"s":"4P_fm0.6_E2_0.15M_R14","d":60,"M":-16.35}
    ],
    "D": [
      {"s":"4P_fm0.15_E1_0.15M_R14","d":1.8,"M":-14.6},{"s":"4P_fm0.15_E1_0.15M_R14","d":1.95,"M":-15.0},{"s":"4P_fm0.15_E1_0.15M_R14","d":2.25,"M":-15.55},{"s":"4P_fm0.15_E1_0.15M_R14","d":2.62,"M":-15.98},{"s":"4P_fm0.15_E1_0.15M_R14","d":3.1,"M":-16.3},{"s":"4P_fm0.15_E1_0.15M_R14","d":3.62,"M":-16.53},{"s":"4P_fm0.15_E1_0.15M_R14","d":4.37,"M":-16.71},{"s":"4P_fm0.15_E1_0.15M_R14","d":5.12,"M":-16.78},{"s":"4P_fm0.15_E1_0.15M_R14","d":6.13,"M":-16.77},{"s":"4P_fm0.15_E1_0.15M_R14","d":7.13,"M":-16.71},{"s":"4P_fm0.15_E1_0.15M_R14","d":7.9,"M":-16.63},{"s":"4P_fm0.15_E1_0.15M_R14","d":8.64,"M":-16.53},{"s":"4P_fm0.15_E1_0.15M_R14","d":9.3,"M":-16.41},{"s":"4P_fm0.15_E1_0.15M_R14","d":9.9,"M":-16.29},{"s":"4P_fm0.15_E1_0.15M_R14","d":10.4,"M":-16.2},{"s":"4P_fm0.15_E1_0.15M_R14","d":10.9,"M":-16.15},{"s":"4P_fm0.15_E1_0.15M_R14","d":11.3,"M":-16.15},{"s":"4P_fm0.15_E1_0.15M_R14","d":11.65,"M":-16.19},{"s":"4P_fm0.15_E1_0.15M_R14","d":12.1,"M":-16.28},{"s":"4P_fm0.15_E1_0.15M_R14","d":12.65,"M":-16.4},{"s":"4P_fm0.15_E1_0.15M_R14","d":13.6,"M":-16.61},{"s":"4P_fm0.15_E1_0.15M_R14","d":14.66,"M":-16.83},{"s":"4P_fm0.15_E1_0.15M_R14","d":15.4,"M":-16.97},{"s":"4P_fm0.15_E1_0.15M_R14","d":16.2,"M":-17.1},{"s":"4P_fm0.15_E1_0.15M_R14","d":17.0,"M":-17.23},{"s":"4P_fm0.15_E1_0.15M_R14","d":17.67,"M":-17.34},{"s":"4P_fm0.15_E1_0.15M_R14","d":19.2,"M":-17.52},{"s":"4P_fm0.15_E1_0.15M_R14","d":20.7,"M":-17.7},{"s":"4P_fm0.15_E1_0.15M_R14","d":22.2,"M":-17.82},{"s":"4P_fm0.15_E1_0.15M_R14","d":23.7,"M":-17.93},{"s":"4P_fm0.15_E1_0.15M_R14","d":25.2,"M":-17.99},{"s":"4P_fm0.15_E1_0.15M_R14","d":26.7,"M":-18.02},{"s":"4P_fm0.15_E1_0.15M_R14","d":28.2,"M":-18.02},{"s":"4P_fm0.15_E1_0.15M_R14","d":29.7,"M":-18.0},{"s":"4P_fm0.15_E1_0.15M_R14","d":31.8,"M":-17.96},{"s":"4P_fm0.15_E1_0.15M_R14","d":33.8,"M":-17.9},{"s":"4P_fm0.15_E1_0.15M_R14","d":35.8,"M":-17.83},{"s":"4P_fm0.15_E1_0.15M_R14","d":37.8,"M":-17.76},{"s":"4P_fm0.15_E1_0.15M_R14","d":39.8,"M":-17.69},{"s":"4P_fm0.15_E1_0.15M_R14","d":41.8,"M":-17.62},{"s":"4P_fm0.15_E1_0.15M_R14","d":43.8,"M":-17.55},{"s":"4P_fm0.15_E1_0.15M_R14","d":45.8,"M":-17.48},{"s":"4P_fm0.15_E1_0.15M_R14","d":47.8,"M":-17.42},{"s":"4P_fm0.15_E1_0.15M_R14","d":49.8,"M":-17.37},{"s":"4P_fm0.15_E1_0.15M_R14","d":51.3,"M":-17.32},{"s":"4P_fm0.15_E1_0.15M_R14","d":52.8,"M":-17.28},{"s":"4P_fm0.15_E1_0.15M_R14","d":54.0,"M":-17.23},{"s":"4P_fm0.15_E1_0.15M_R14","d":54.8,"M":-17.19},{"s":"4P_fm0.15_E1_0.15M_R14","d":56.8,"M":-17.12},{"s":"4P_fm0.15_E1_0.15M_R14","d":58.3,"M":-17.06},{"s":"4P_fm0.15_E1_0.15M_R14","d":60,"M":-17.0},
      {"s":"4P_fm0.15_E1.5_0.15M_R14","d":1.05,"M":-14.6},{"s":"4P_fm0.15_E1.5_0.15M_R14","d":1.2,"M":-15.0},{"s":"4P_fm0.15_E1.5_0.15M_R14","d":1.5,"M":-15.86},{"s":"4P_fm0.15_E1.5_0.15M_R14","d":1.9,"M":-16.35},{"s":"4P_fm0.15_E1.5_0.15M_R14","d":2.37,"M":-16.71},{"s":"4P_fm0.15_E1.5_0.15M_R14","d":3.12,"M":-17.01},{"s":"4P_fm0.15_E1.5_0.15M_R14","d":3.6,"M":-17.11},{"s":"4P_fm0.15_E1.5_0.15M_R14","d":4.12,"M":-17.16},{"s":"4P_fm0.15_E1.5_0.15M_R14","d":4.88,"M":-17.19},{"s":"4P_fm0.15_E1.5_0.15M_R14","d":5.5,"M":-17.17},{"s":"4P_fm0.15_E1.5_0.15M_R14","d":5.9,"M":-17.14},{"s":"4P_fm0.15_E1.5_0.15M_R14","d":6.5,"M":-17.08},{"s":"4P_fm0.15_E1.5_0.15M_R14","d":7.13,"M":-17.01},{"s":"4P_fm0.15_E1.5_0.15M_R14","d":7.8,"M":-16.9},{"s":"4P_fm0.15_E1.5_0.15M_R14","d":8.4,"M":-16.8},{"s":"4P_fm0.15_E1.5_0.15M_R14","d":9.1,"M":-16.69},{"s":"4P_fm0.15_E1.5_0.15M_R14","d":9.9,"M":-16.62},{"s":"4P_fm0.15_E1.5_0.15M_R14","d":10.4,"M":-16.63},{"s":"4P_fm0.15_E1.5_0.15M_R14","d":10.9,"M":-16.68},{"s":"4P_fm0.15_E1.5_0.15M_R14","d":11.5,"M":-16.8},{"s":"4P_fm0.15_E1.5_0.15M_R14","d":12.2,"M":-16.95},{"s":"4P_fm0.15_E1.5_0.15M_R14","d":13.4,"M":-17.22},{"s":"4P_fm0.15_E1.5_0.15M_R14","d":14.66,"M":-17.43},{"s":"4P_fm0.15_E1.5_0.15M_R14","d":15.4,"M":-17.54},{"s":"4P_fm0.15_E1.5_0.15M_R14","d":16.2,"M":-17.64},{"s":"4P_fm0.15_E1.5_0.15M_R14","d":17.67,"M":-17.82},{"s":"4P_fm0.15_E1.5_0.15M_R14","d":19.2,"M":-17.97},{"s":"4P_fm0.15_E1.5_0.15M_R14","d":20.7,"M":-18.06},{"s":"4P_fm0.15_E1.5_0.15M_R14","d":22.2,"M":-18.12},{"s":"4P_fm0.15_E1.5_0.15M_R14","d":23.7,"M":-18.16},{"s":"4P_fm0.15_E1.5_0.15M_R14","d":25.7,"M":-18.2},{"s":"4P_fm0.15_E1.5_0.15M_R14","d":27.7,"M":-18.19},{"s":"4P_fm0.15_E1.5_0.15M_R14","d":29.7,"M":-18.12},{"s":"4P_fm0.15_E1.5_0.15M_R14","d":31.8,"M":-18.03},{"s":"4P_fm0.15_E1.5_0.15M_R14","d":33.8,"M":-17.91},{"s":"4P_fm0.15_E1.5_0.15M_R14","d":35.8,"M":-17.79},{"s":"4P_fm0.15_E1.5_0.15M_R14","d":37.8,"M":-17.68},{"s":"4P_fm0.15_E1.5_0.15M_R14","d":39.8,"M":-17.56},{"s":"4P_fm0.15_E1.5_0.15M_R14","d":41.8,"M":-17.46},{"s":"4P_fm0.15_E1.5_0.15M_R14","d":43.8,"M":-17.37},{"s":"4P_fm0.15_E1.5_0.15M_R14","d":45.8,"M":-17.29},{"s":"4P_fm0.15_E1.5_0.15M_R14","d":47.8,"M":-17.18},{"s":"4P_fm0.15_E1.5_0.15M_R14","d":49.8,"M":-17.1},{"s":"4P_fm0.15_E1.5_0.15M_R14","d":51.8,"M":-17.02},{"s":"4P_fm0.15_E1.5_0.15M_R14","d":53.8,"M":-16.95},{"s":"4P_fm0.15_E1.5_0.15M_R14","d":56.8,"M":-16.86},{"s":"4P_fm0.15_E1.5_0.15M_R14","d":60,"M":-16.78},
      {"s":"4P_fm0.15_E2_0.15M_R14","d":0.7,"M":-14.6},{"s":"4P_fm0.15_E2_0.15M_R14","d":0.86,"M":-15.0},{"s":"4P_fm0.15_E2_0.15M_R14","d":1.1,"M":-15.45},{"s":"4P_fm0.15_E2_0.15M_R14","d":1.36,"M":-15.86},{"s":"4P_fm0.15_E2_0.15M_R14","d":1.86,"M":-16.53},{"s":"4P_fm0.15_E2_0.15M_R14","d":2.2,"M":-16.85},{"s":"4P_fm0.15_E2_0.15M_R14","d":2.6,"M":-17.1},{"s":"4P_fm0.15_E2_0.15M_R14","d":3.1,"M":-17.3},{"s":"4P_fm0.15_E2_0.15M_R14","d":3.6,"M":-17.43},{"s":"4P_fm0.15_E2_0.15M_R14","d":4.12,"M":-17.47},{"s":"4P_fm0.15_E2_0.15M_R14","d":4.88,"M":-17.44},{"s":"4P_fm0.15_E2_0.15M_R14","d":5.63,"M":-17.37},{"s":"4P_fm0.15_E2_0.15M_R14","d":6.4,"M":-17.28},{"s":"4P_fm0.15_E2_0.15M_R14","d":7.13,"M":-17.19},{"s":"4P_fm0.15_E2_0.15M_R14","d":7.8,"M":-17.1},{"s":"4P_fm0.15_E2_0.15M_R14","d":8.4,"M":-17.04},{"s":"4P_fm0.15_E2_0.15M_R14","d":9.0,"M":-16.96},{"s":"4P_fm0.15_E2_0.15M_R14","d":9.4,"M":-16.93},{"s":"4P_fm0.15_E2_0.15M_R14","d":9.9,"M":-16.92},{"s":"4P_fm0.15_E2_0.15M_R14","d":10.4,"M":-16.96},{"s":"4P_fm0.15_E2_0.15M_R14","d":11.0,"M":-17.1},{"s":"4P_fm0.15_E2_0.15M_R14","d":11.65,"M":-17.28},{"s":"4P_fm0.15_E2_0.15M_R14","d":12.65,"M":-17.49},{"s":"4P_fm0.15_E2_0.15M_R14","d":13.7,"M":-17.7},{"s":"4P_fm0.15_E2_0.15M_R14","d":14.66,"M":-17.85},{"s":"4P_fm0.15_E2_0.15M_R14","d":15.7,"M":-17.96},{"s":"4P_fm0.15_E2_0.15M_R14","d":17.2,"M":-18.06},{"s":"4P_fm0.15_E2_0.15M_R14","d":18.7,"M":-18.14},{"s":"4P_fm0.15_E2_0.15M_R14","d":20.2,"M":-18.19},{"s":"4P_fm0.15_E2_0.15M_R14","d":21.7,"M":-18.23},{"s":"4P_fm0.15_E2_0.15M_R14","d":23.7,"M":-18.24},{"s":"4P_fm0.15_E2_0.15M_R14","d":25.7,"M":-18.23},{"s":"4P_fm0.15_E2_0.15M_R14","d":27.7,"M":-18.19},{"s":"4P_fm0.15_E2_0.15M_R14","d":29.7,"M":-18.1},{"s":"4P_fm0.15_E2_0.15M_R14","d":31.8,"M":-17.99},{"s":"4P_fm0.15_E2_0.15M_R14","d":33.8,"M":-17.87},{"s":"4P_fm0.15_E2_0.15M_R14","d":35.8,"M":-17.73},{"s":"4P_fm0.15_E2_0.15M_R14","d":37.8,"M":-17.62},{"s":"4P_fm0.15_E2_0.15M_R14","d":39.8,"M":-17.48},{"s":"4P_fm0.15_E2_0.15M_R14","d":41.8,"M":-17.34},{"s":"4P_fm0.15_E2_0.15M_R14","d":43.8,"M":-17.22},{"s":"4P_fm0.15_E2_0.15M_R14","d":45.8,"M":-17.1},{"s":"4P_fm0.15_E2_0.15M_R14","d":47.8,"M":-17.0},{"s":"4P_fm0.15_E2_0.15M_R14","d":49.8,"M":-16.92},{"s":"4P_fm0.15_E2_0.15M_R14","d":51.8,"M":-16.87},{"s":"4P_fm0.15_E2_0.15M_R14","d":53.8,"M":-16.83},{"s":"4P_fm0.15_E2_0.15M_R14","d":56.8,"M":-16.77},{"s":"4P_fm0.15_E2_0.15M_R14","d":60,"M":-16.71}
    ]
  },
  "columns": 2,
  "spacing": {"row": 55, "column": 84},
  "bounds": "flush",
  "resolve": {"scale": {"color": "independent"}, "legend": {"color": "independent"}},
  "concat": [
    {
      "width": 420, "height": 220,
      "title": {"text": "CSM mass"},
      "encoding": {
        "x": {"field": "d", "type": "quantitative", "scale": {"domain": [-3.2, 60], "nice": false, "zero": false}, "axis": {"values": [0,10,20,30,40,50,60], "title": null}},
        "y": {"field": "M", "type": "quantitative", "scale": {"domain": [-19, -15], "reverse": true, "nice": false, "zero": false}, "axis": {"values": [-19,-18,-17,-16,-15], "title": "Absolute Magnitude"}}
      },
      "layer": [
        {"data": {"name": "A"}, "mark": {"type": "line", "strokeWidth": 2.5, "interpolate": "monotone", "clip": true},
         "encoding": {"color": {"field": "s", "type": "nominal", "scale": {"domain": ["4P_fm0.15_E2_0.05M_R14","4P_fm0.15_E2_0.15M_R14","4P_fm0.15_E2_0.3M_R14","LSQ14efd"], "range": ["#1f77b4","#ff7f0e","#2ca02c","#000000"]},
           "legend": {"title": null, "encode": {"symbols": {"update": {"shape": {"signal": "datum.value === 'LSQ14efd' ? 'circle' : 'M-2.7,0L2.7,0'"}, "size": {"signal": "datum.value === 'LSQ14efd' ? 64 : 100"}, "fill": {"signal": "datum.value === 'LSQ14efd' ? 'black' : 'transparent'"}, "stroke": {"signal": "datum.value === 'LSQ14efd' ? 'transparent' : ['#1f77b4','#ff7f0e','#2ca02c'][datum.index]"}, "strokeWidth": {"value": 2.5}, "opacity": {"value": 1}}}}}}}},
        {"data": {"name": "obs"}, "mark": {"type": "point", "filled": true, "size": 70, "opacity": 1}, "encoding": {"color": {"datum": "LSQ14efd", "type": "nominal"}}},
        {"data": {"name": "lim"}, "mark": {"type": "rule", "color": "black", "strokeWidth": 2, "y2Offset": 18}, "encoding": {"y2": {"field": "M"}}},
        {"data": {"name": "lim"}, "mark": {"type": "point", "shape": "M-0.75,-1L0.75,-1L0,1Z", "size": 144, "filled": true, "color": "black", "opacity": 1, "yOffset": 22.5}, "encoding": {}},
        {"data": {"name": "lim"}, "mark": {"type": "tick", "orient": "horizontal", "size": 14, "thickness": 2.5, "color": "black", "opacity": 1}, "encoding": {}}
      ]
    },
    {
      "width": 420, "height": 220,
      "title": {"text": "CSM radius"},
      "encoding": {
        "x": {"field": "d", "type": "quantitative", "scale": {"domain": [-3.2, 60], "nice": false, "zero": false}, "axis": {"values": [0,10,20,30,40,50,60], "title": null}},
        "y": {"field": "M", "type": "quantitative", "scale": {"domain": [-19, -15], "reverse": true, "nice": false, "zero": false}, "axis": {"values": [-19,-18,-17,-16,-15], "title": null}}
      },
      "layer": [
        {"data": {"name": "B"}, "mark": {"type": "line", "strokeWidth": 2.5, "interpolate": "monotone", "clip": true},
         "encoding": {"color": {"field": "s", "type": "nominal", "scale": {"domain": ["4P_fm0.15_E2_0.15M_R13","4P_fm0.15_E2_0.15M_R14","4P_fm0.15_E2_0.15M_R15","LSQ14efd"], "range": ["#1f77b4","#ff7f0e","#2ca02c","#000000"]},
           "legend": {"title": null, "encode": {"symbols": {"update": {"shape": {"signal": "datum.value === 'LSQ14efd' ? 'circle' : 'M-2.7,0L2.7,0'"}, "size": {"signal": "datum.value === 'LSQ14efd' ? 64 : 100"}, "fill": {"signal": "datum.value === 'LSQ14efd' ? 'black' : 'transparent'"}, "stroke": {"signal": "datum.value === 'LSQ14efd' ? 'transparent' : ['#1f77b4','#ff7f0e','#2ca02c'][datum.index]"}, "strokeWidth": {"value": 2.5}, "opacity": {"value": 1}}}}}}}},
        {"data": {"name": "obs"}, "mark": {"type": "point", "filled": true, "size": 70, "opacity": 1}, "encoding": {"color": {"datum": "LSQ14efd", "type": "nominal"}}},
        {"data": {"name": "lim"}, "mark": {"type": "rule", "color": "black", "strokeWidth": 2, "y2Offset": 18}, "encoding": {"y2": {"field": "M"}}},
        {"data": {"name": "lim"}, "mark": {"type": "point", "shape": "M-0.75,-1L0.75,-1L0,1Z", "size": 144, "filled": true, "color": "black", "opacity": 1, "yOffset": 22.5}, "encoding": {}},
        {"data": {"name": "lim"}, "mark": {"type": "tick", "orient": "horizontal", "size": 14, "thickness": 2.5, "color": "black", "opacity": 1}, "encoding": {}}
      ]
    },
    {
      "width": 420, "height": 220,
      "title": {"text": "Nickel distribution"},
      "encoding": {
        "x": {"field": "d", "type": "quantitative", "scale": {"domain": [-3.2, 60], "nice": false, "zero": false}, "axis": {"values": [0,10,20,30,40,50,60], "title": "Days since Explosion"}},
        "y": {"field": "M", "type": "quantitative", "scale": {"domain": [-19, -15], "reverse": true, "nice": false, "zero": false}, "axis": {"values": [-19,-18,-17,-16,-15], "title": "Absolute Magnitude"}}
      },
      "layer": [
        {"data": {"name": "C"}, "mark": {"type": "line", "strokeWidth": 2.5, "interpolate": "monotone", "clip": true},
         "encoding": {"color": {"field": "s", "type": "nominal", "scale": {"domain": ["4P_fm0.15_E2_0.15M_R14","4P_fm0.3_E2_0.15M_R14","4P_fm0.6_E2_0.15M_R14","LSQ14efd"], "range": ["#1f77b4","#ff7f0e","#2ca02c","#000000"]},
           "legend": {"title": null, "encode": {"symbols": {"update": {"shape": {"signal": "datum.value === 'LSQ14efd' ? 'circle' : 'M-2.7,0L2.7,0'"}, "size": {"signal": "datum.value === 'LSQ14efd' ? 64 : 100"}, "fill": {"signal": "datum.value === 'LSQ14efd' ? 'black' : 'transparent'"}, "stroke": {"signal": "datum.value === 'LSQ14efd' ? 'transparent' : ['#1f77b4','#ff7f0e','#2ca02c'][datum.index]"}, "strokeWidth": {"value": 2.5}, "opacity": {"value": 1}}}}}}}},
        {"data": {"name": "obs"}, "mark": {"type": "point", "filled": true, "size": 70, "opacity": 1}, "encoding": {"color": {"datum": "LSQ14efd", "type": "nominal"}}},
        {"data": {"name": "lim"}, "mark": {"type": "rule", "color": "black", "strokeWidth": 2, "y2Offset": 18}, "encoding": {"y2": {"field": "M"}}},
        {"data": {"name": "lim"}, "mark": {"type": "point", "shape": "M-0.75,-1L0.75,-1L0,1Z", "size": 144, "filled": true, "color": "black", "opacity": 1, "yOffset": 22.5}, "encoding": {}},
        {"data": {"name": "lim"}, "mark": {"type": "tick", "orient": "horizontal", "size": 14, "thickness": 2.5, "color": "black", "opacity": 1}, "encoding": {}}
      ]
    },
    {
      "width": 420, "height": 220,
      "title": {"text": "Explosion energy"},
      "encoding": {
        "x": {"field": "d", "type": "quantitative", "scale": {"domain": [-3.2, 60], "nice": false, "zero": false}, "axis": {"values": [0,10,20,30,40,50,60], "title": "Days since Explosion"}},
        "y": {"field": "M", "type": "quantitative", "scale": {"domain": [-19, -15], "reverse": true, "nice": false, "zero": false}, "axis": {"values": [-19,-18,-17,-16,-15], "title": null}}
      },
      "layer": [
        {"data": {"name": "D"}, "mark": {"type": "line", "strokeWidth": 2.5, "interpolate": "monotone", "clip": true},
         "encoding": {"color": {"field": "s", "type": "nominal", "scale": {"domain": ["4P_fm0.15_E1_0.15M_R14","4P_fm0.15_E1.5_0.15M_R14","4P_fm0.15_E2_0.15M_R14","LSQ14efd"], "range": ["#1f77b4","#ff7f0e","#2ca02c","#000000"]},
           "legend": {"title": null, "encode": {"symbols": {"update": {"shape": {"signal": "datum.value === 'LSQ14efd' ? 'circle' : 'M-2.7,0L2.7,0'"}, "size": {"signal": "datum.value === 'LSQ14efd' ? 64 : 100"}, "fill": {"signal": "datum.value === 'LSQ14efd' ? 'black' : 'transparent'"}, "stroke": {"signal": "datum.value === 'LSQ14efd' ? 'transparent' : ['#1f77b4','#ff7f0e','#2ca02c'][datum.index]"}, "strokeWidth": {"value": 2.5}, "opacity": {"value": 1}}}}}}}},
        {"data": {"name": "obs"}, "mark": {"type": "point", "filled": true, "size": 70, "opacity": 1}, "encoding": {"color": {"datum": "LSQ14efd", "type": "nominal"}}},
        {"data": {"name": "lim"}, "mark": {"type": "rule", "color": "black", "strokeWidth": 2, "y2Offset": 18}, "encoding": {"y2": {"field": "M"}}},
        {"data": {"name": "lim"}, "mark": {"type": "point", "shape": "M-0.75,-1L0.75,-1L0,1Z", "size": 144, "filled": true, "color": "black", "opacity": 1, "yOffset": 22.5}, "encoding": {}},
        {"data": {"name": "lim"}, "mark": {"type": "tick", "orient": "horizontal", "size": 14, "thickness": 2.5, "color": "black", "opacity": 1}, "encoding": {}}
      ]
    }
  ]
}
